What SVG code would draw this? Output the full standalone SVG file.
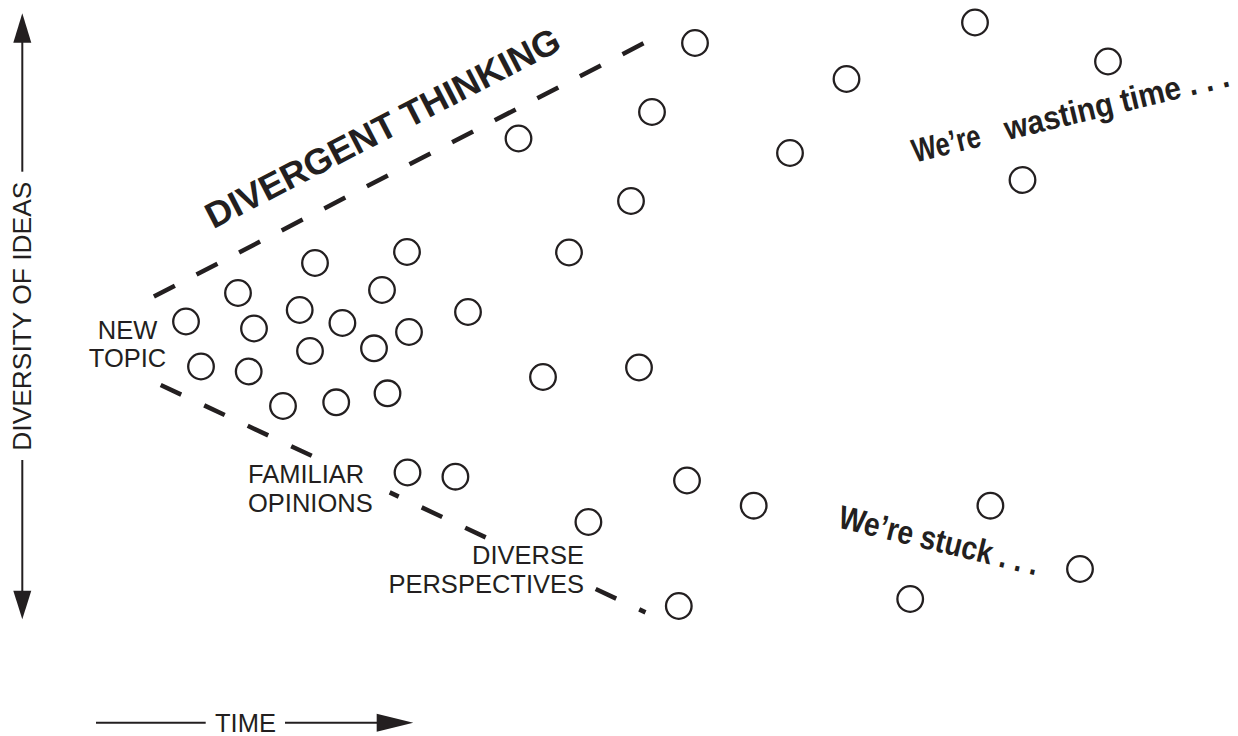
<svg xmlns="http://www.w3.org/2000/svg" width="1238" height="736" viewBox="0 0 1238 736">
<style>
.ax{stroke:#231f20;stroke-width:2;fill:none}
.head{fill:#231f20;stroke:none}
.dash{stroke:#231f20;stroke-width:4.5;fill:none}
.idea{fill:none;stroke:#231f20;stroke-width:2.3}
.lbl{font-family:"Liberation Sans",Arial,Helvetica,sans-serif;font-size:25.5px;fill:#231f20}
.big{font-family:"Liberation Sans",Arial,Helvetica,sans-serif;font-weight:bold;fill:#231f20}
</style>
<rect width="1238" height="736" fill="#ffffff"/>

<g id="axis-diversity">
  <line class="ax" x1="22.3" y1="42" x2="22.3" y2="171.7"/>
  <polygon class="head" points="22.3,13.3 13.3,42.7 31.3,42.7"/>
  <text class="lbl" transform="translate(31,316.2) rotate(-90)" text-anchor="middle" textLength="269" lengthAdjust="spacingAndGlyphs">DIVERSITY OF IDEAS</text>
  <line class="ax" x1="22.3" y1="460" x2="22.3" y2="591"/>
  <polygon class="head" points="13.3,590.7 31.3,590.7 22.3,619.3"/>
</g>

<g id="axis-time">
  <line class="ax" x1="96" y1="722.8" x2="205.7" y2="722.8"/>
  <text class="lbl" x="215" y="732.3" textLength="61" lengthAdjust="spacingAndGlyphs">TIME</text>
  <line class="ax" x1="285" y1="722.8" x2="377" y2="722.8"/>
  <polygon class="head" points="376.7,713.8 376.7,731.8 413.3,722.8"/>
</g>

<g id="connectors">
  <line class="dash" x1="153.9" y1="296.5" x2="643.6" y2="43.3" stroke-dasharray="23.6 24.36"/>
  <path class="dash" d="M160.7,385 L181.2,394.6 M204.2,405.4 L224.7,415 M247.7,425.8 L268.2,435.4 M291.2,446.2 L311.7,455.8 M389.7,492.4 L398.7,496.6 M421.7,507.4 L442.2,517 M465.2,527.8 L485.7,537.4 M595.7,589 L616.2,598.6 M639.2,609.4 L645.5,612.4"/>
</g>

<g id="label-divergent">
  <text class="big" font-size="36" transform="translate(213.3,229.3) rotate(-27.3)" textLength="394" lengthAdjust="spacingAndGlyphs">DIVERGENT THINKING</text>
</g>
<g id="label-new-topic">
  <text class="lbl" x="127.5" y="339.3" text-anchor="middle">NEW</text>
  <text class="lbl" x="127.5" y="367.3" text-anchor="middle">TOPIC</text>
</g>
<g id="label-familiar">
  <text class="lbl" x="248" y="483.3">FAMILIAR</text>
  <text class="lbl" x="248" y="511.7">OPINIONS</text>
</g>
<g id="label-diverse">
  <text class="lbl" x="584" y="564" text-anchor="end">DIVERSE</text>
  <text class="lbl" x="584" y="593.3" text-anchor="end">PERSPECTIVES</text>
</g>
<g id="label-wasting" transform="translate(915,162.5) rotate(-13.6)">
  <text class="big" font-size="33" transform="scale(0.779,1)">We’re</text>
  <text class="big" font-size="33" transform="translate(95,0) scale(0.903,1)">wasting time . . .</text>
</g>
<g id="label-stuck" transform="translate(836.7,527.3) rotate(13.6)">
  <text class="big" font-size="33" transform="scale(0.854,1)">We’re stuck . . .</text>
</g>

<g id="ideas">
  <g id="idea-1"><circle class="idea" cx="695" cy="43" r="12.8"/></g>
  <g id="idea-2"><circle class="idea" cx="975" cy="22.5" r="12.8"/></g>
  <g id="idea-3"><circle class="idea" cx="1108" cy="61.5" r="12.8"/></g>
  <g id="idea-4"><circle class="idea" cx="846.5" cy="79" r="12.8"/></g>
  <g id="idea-5"><circle class="idea" cx="652" cy="112" r="12.8"/></g>
  <g id="idea-6"><circle class="idea" cx="518.5" cy="138.5" r="12.8"/></g>
  <g id="idea-7"><circle class="idea" cx="790" cy="153" r="12.8"/></g>
  <g id="idea-8"><circle class="idea" cx="1022.5" cy="180" r="12.8"/></g>
  <g id="idea-9"><circle class="idea" cx="631" cy="201" r="12.8"/></g>
  <g id="idea-10"><circle class="idea" cx="569" cy="252.5" r="12.8"/></g>
  <g id="idea-11"><circle class="idea" cx="407" cy="252" r="12.8"/></g>
  <g id="idea-12"><circle class="idea" cx="315" cy="263" r="12.8"/></g>
  <g id="idea-13"><circle class="idea" cx="238" cy="293" r="12.8"/></g>
  <g id="idea-14"><circle class="idea" cx="382" cy="290" r="12.8"/></g>
  <g id="idea-15"><circle class="idea" cx="468" cy="312" r="12.8"/></g>
  <g id="idea-16"><circle class="idea" cx="186" cy="321.5" r="12.8"/></g>
  <g id="idea-17"><circle class="idea" cx="254" cy="328.5" r="12.8"/></g>
  <g id="idea-18"><circle class="idea" cx="299.7" cy="310" r="12.8"/></g>
  <g id="idea-19"><circle class="idea" cx="342.4" cy="323" r="12.8"/></g>
  <g id="idea-20"><circle class="idea" cx="409" cy="332" r="12.8"/></g>
  <g id="idea-21"><circle class="idea" cx="201" cy="366.5" r="12.8"/></g>
  <g id="idea-22"><circle class="idea" cx="248.7" cy="371.5" r="12.8"/></g>
  <g id="idea-23"><circle class="idea" cx="310" cy="351" r="12.8"/></g>
  <g id="idea-24"><circle class="idea" cx="374" cy="348.3" r="12.8"/></g>
  <g id="idea-25"><circle class="idea" cx="283" cy="406" r="12.8"/></g>
  <g id="idea-26"><circle class="idea" cx="336.2" cy="402.3" r="12.8"/></g>
  <g id="idea-27"><circle class="idea" cx="387.5" cy="393.3" r="12.8"/></g>
  <g id="idea-28"><circle class="idea" cx="543" cy="377" r="12.8"/></g>
  <g id="idea-29"><circle class="idea" cx="639" cy="367.5" r="12.8"/></g>
  <g id="idea-30"><circle class="idea" cx="407.5" cy="472.5" r="12.8"/></g>
  <g id="idea-31"><circle class="idea" cx="455.4" cy="476.7" r="12.8"/></g>
  <g id="idea-32"><circle class="idea" cx="687" cy="480.5" r="12.8"/></g>
  <g id="idea-33"><circle class="idea" cx="753.7" cy="505.7" r="12.8"/></g>
  <g id="idea-34"><circle class="idea" cx="990.4" cy="505.7" r="12.8"/></g>
  <g id="idea-35"><circle class="idea" cx="588.4" cy="522" r="12.8"/></g>
  <g id="idea-36"><circle class="idea" cx="678.8" cy="606" r="12.8"/></g>
  <g id="idea-37"><circle class="idea" cx="910.2" cy="599" r="12.8"/></g>
  <g id="idea-38"><circle class="idea" cx="1080" cy="569" r="12.8"/></g>
</g>
</svg>
